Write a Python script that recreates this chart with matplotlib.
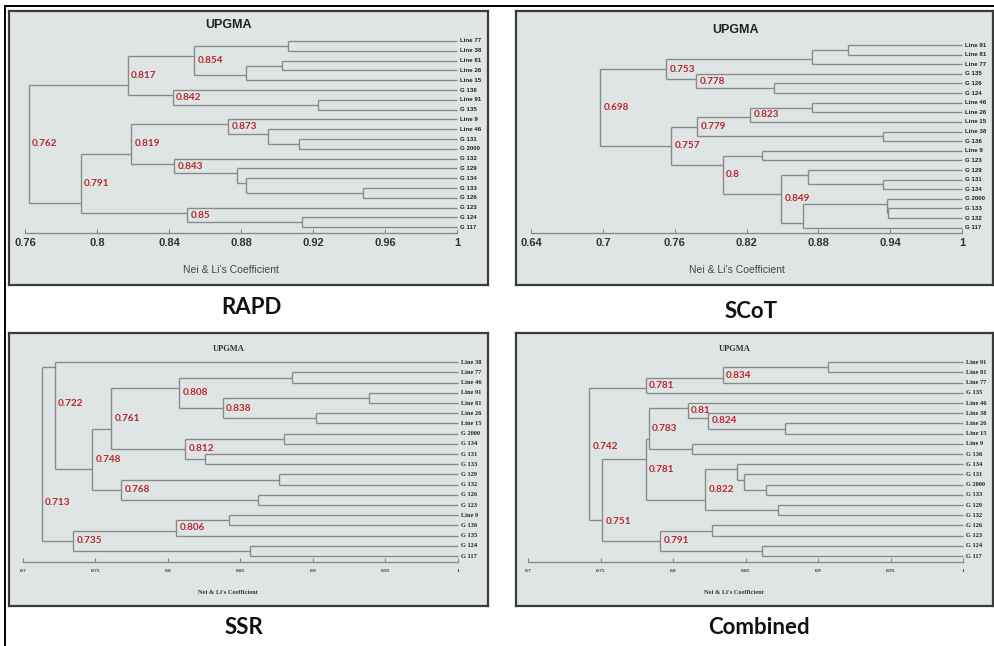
import matplotlib
matplotlib.use("Agg")
import matplotlib.pyplot as plt
from matplotlib.patches import Rectangle

# ---- data: UPGMA trees (height, upper child, lower child); leaves are names ----
rapd_tree = [0.762,
             [0.817,
              [0.854, [0.906, "Line 77", "Line 38"],
                      [0.883, [0.903, "Line 81", "Line 26"], "Line 15"]],
              [0.842, "G 136", [0.923, "Line 91", "G 135"]]],
             [0.791,
              [0.819,
               [0.873, "Line 9", [0.895, "Line 46", [0.912, "G 131", "G 2000"]]],
               [0.843, "G 132",
                [0.878, "G 129", [0.883, "G 134", [0.948, "G 133", "G 126"]]]]],
              [0.85, "G 123", [0.914, "G 124", "G 117"]]]]

scot_tree = [0.698,
             [0.753,
              [0.875, [0.905, "Line 91", "Line 81"], "Line 77"],
              [0.778, "G 135", [0.843, "G 126", "G 124"]]],
             [0.757,
              [0.779,
               [0.823, [0.875, "Line 46", "Line 26"], "Line 15"],
               [0.934, "Line 38", "G 136"]],
              [0.8,
               [0.833, "Line 9", "G 123"],
               [0.849,
                [0.871, "G 129", [0.934, "G 131", "G 134"]],
                [0.867, [0.937, "G 2000", [0.938, "G 133", "G 132"]], "G 117"]]]]]

ssr_tree = [0.713,
            [0.722, "Line 38",
             [0.748,
              [0.761,
               [0.808, [0.886, "Line 77", "Line 46"],
                       [0.838, [0.939, "Line 91", "Line 81"], [0.902, "Line 26", "Line 15"]]],
               [0.812, [0.880, "G 2000", "G 134"], [0.826, "G 131", "G 133"]]],
              [0.768, [0.877, "G 129", "G 132"], [0.8625, "G 126", "G 123"]]]],
            [0.735,
             [0.806, [0.842, "Line 9", "G 136"], "G 135"],
             [0.857, "G 124", "G 117"]]]

comb_tree = [0.742,
             [0.781, [0.834, [0.907, "Line 91", "Line 81"], "Line 77"], "G 135"],
             [0.751,
              [0.781,
               [0.783,
                [0.81, "Line 46", [0.824, "Line 38", [0.877, "Line 26", "Line 15"]]],
                [0.813, "Line 9", "G 136"]],
               [0.822,
                [0.844, "G 134", [0.849, "G 131", [0.864, "G 2000", "G 133"]]],
                [0.872, "G 129", "G 132"]]],
              [0.791, [0.827, "G 126", "G 123"], [0.861, "G 124", "G 117"]]]]

# node values printed on the trees
rapd_labels = [0.854, 0.817, 0.842, 0.873, 0.819, 0.843, 0.791, 0.85, 0.762]
scot_labels = [0.753, 0.778, 0.698, 0.823, 0.779, 0.757, 0.8, 0.849]
ssr_labels = [0.722, 0.808, 0.838, 0.761, 0.812, 0.748, 0.768, 0.713, 0.806, 0.735]
comb_labels = [0.834, 0.781, 0.742, 0.81, 0.824, 0.783, 0.822, 0.751, 0.791]

rapd_ticks = [0.76, 0.80, 0.84, 0.88, 0.92, 0.96, 1.0]
rapd_ticklabels = ["0.76", "0.8", "0.84", "0.88", "0.92", "0.96", "1"]
scot_ticks = [0.64, 0.70, 0.76, 0.82, 0.88, 0.94, 1.0]
scot_ticklabels = ["0.64", "0.7", "0.76", "0.82", "0.88", "0.94", "1"]
ssr_ticks = [0.70, 0.75, 0.80, 0.85, 0.90, 0.95, 1.0]
ssr_ticklabels = ["0.7", "0.75", "0.8", "0.85", "0.9", "0.95", "1"]

# ---- layout (pixels on a 994x646 canvas) ----
W, H = 994, 646
RED = "#b8262e"
LINE = "#8a8a8a"
BG = "#dfe5e5"


def fig_rect(x0, y0, x1, y1):
    return [x0 / W, 1 - y1 / H, (x1 - x0) / W, (y1 - y0) / H]


def walk(node, leaves, segs, marks):
    """Returns (first leaf idx, last leaf idx, attach y, node x)."""
    if isinstance(node, str):
        i = len(leaves)
        leaves.append(node)
        return i, i, i, 1.0
    h, left, right = node
    lf, ll, ly, lx = walk(left, leaves, segs, marks)
    rf, rl, ry, rx = walk(right, leaves, segs, marks)
    segs.append(([h, h], [ly, ry]))
    segs.append(([h, lx], [ly, ly]))
    segs.append(([h, rx], [ry, ry]))
    marks.append((h, (ly + ry) / 2))
    # parent branch attaches at the split between the two children
    return lf, rl, (ll + rf) / 2, h


def draw_tree(fig, box, area, tree, labels, ticks, ticklabels, serif,
              title_xy, xlabel_xy, label_y=None):
    # panel background box
    bx = fig.add_axes(fig_rect(*box), zorder=0)
    bx.set_facecolor(BG)
    bx.set_xticks([])
    bx.set_yticks([])
    for s in bx.spines.values():
        s.set_color("#3a3a3a")
        s.set_linewidth(1.6)

    x0, x1, ytop, ylast, yaxis = area
    leaves, segs, marks = [], [], []
    walk(tree, leaves, segs, marks)
    n = len(leaves)
    gap = (yaxis - ylast) / ((ylast - ytop) / (n - 1))

    ax = fig.add_axes(fig_rect(x0, ytop, x1, yaxis), zorder=1)
    ax.patch.set_alpha(0)
    for xs, ys in segs:
        ax.plot(xs, ys, color=LINE, lw=1.0, solid_capstyle="butt", clip_on=False)
    ax.set_xlim(ticks[0], 1.0)
    ax.set_ylim(n - 1 + gap, 0)
    for s in ["top", "right", "left"]:
        ax.spines[s].set_visible(False)
    ax.spines["bottom"].set_color("#8a8a8a")
    ax.spines["bottom"].set_linewidth(1.0)
    ax.set_yticks([])
    ax.set_xticks(ticks)

    if serif:
        fam = "Liberation Serif"
        ax.set_xticklabels(ticklabels, family=fam, fontsize=3.8,
                           fontweight="bold", color="#333333")
        ax.tick_params(axis="x", direction="in", length=3, width=0.8,
                       color="#8a8a8a", pad=4.5)
        leaf_kw = dict(family=fam, fontsize=4.6, fontweight="bold", color="#222222")
        fig.text(title_xy[0] / W, 1 - title_xy[1] / H, "UPGMA", family=fam,
                 fontsize=6, fontweight="bold", color="#333333",
                 ha="center", va="center")
        fig.text(xlabel_xy[0] / W, 1 - xlabel_xy[1] / H, "Nei & Li's Coefficient",
                 family=fam, fontsize=4.6, fontweight="bold", color="#333333",
                 ha="center", va="center")
    else:
        fam = "Liberation Sans"
        ax.set_xticklabels(ticklabels, family=fam, fontsize=8,
                           fontweight="bold", color="#333333")
        ax.tick_params(axis="x", direction="in", length=3, width=0.8,
                       color="#8a8a8a", pad=3.5)
        leaf_kw = dict(family=fam, fontsize=4.4, fontweight="bold", color="#222222")
        fig.text(title_xy[0] / W, 1 - title_xy[1] / H, "UPGMA", family=fam,
                 fontsize=9, fontweight="bold", color="#222222",
                 ha="center", va="center")
        fig.text(xlabel_xy[0] / W, 1 - xlabel_xy[1] / H, "Nei & Li's Coefficient",
                 family=fam, fontsize=7.5, color="#444444",
                 ha="center", va="center")

    for i, name in enumerate(leaves):
        ax.annotate(name, (1.0, i), xytext=(2.2, 0), textcoords="offset points",
                    ha="left", va="center", annotation_clip=False, **leaf_kw)

    label_y = label_y or {}
    for h, ym in marks:
        if h in labels:
            ax.annotate(f"{h:g}", (h, label_y.get(h, ym)), xytext=(2.4, 0),
                        textcoords="offset points", ha="left", va="center",
                        family="Lato", fontweight="bold", fontsize=7.2,
                        color=RED, annotation_clip=False)


fig = plt.figure(figsize=(W / 100, H / 100), dpi=100)
fig.patch.set_facecolor("white")

# outer frame
fig.patches.append(Rectangle((5 / W, -0.02), (W + 10) / W, 1 - 6 / H + 0.02,
                             transform=fig.transFigure, fill=False,
                             edgecolor="black", lw=1.4, zorder=5))

draw_tree(fig, (9, 11, 488, 285), (25, 457, 41, 227.3, 232.7),
          rapd_tree, rapd_labels, rapd_ticks, rapd_ticklabels, False,
          (228.7, 25.3), (230.7, 270))
draw_tree(fig, (516, 11, 993, 285), (531, 962, 45, 227.7, 233.3),
          scot_tree, scot_labels, scot_ticks, scot_ticklabels, False,
          (735.7, 30), (737, 270))
draw_tree(fig, (9, 333, 488, 606), (22.7, 457.7, 362.3, 556, 562.3),
          ssr_tree, ssr_labels, ssr_ticks, ssr_ticklabels, True,
          (228.3, 349), (228.3, 593), label_y={0.722: 4.0, 0.713: 13.8})
draw_tree(fig, (516, 333, 993, 606), (528.3, 963.3, 362.3, 556, 562.3),
          comb_tree, comb_labels, ssr_ticks, ssr_ticklabels, True,
          (734.7, 349.3), (734.3, 593), label_y={0.742: 8.3, 0.751: 15.6})

for x, y, name in [(251.5, 308, "RAPD"), (751.5, 312, "SCoT"),
                   (244, 628, "SSR"), (758.5, 628, "Combined")]:
    fig.text(x / W, 1 - y / H, name, family="Lato", fontweight="bold",
             fontsize=16, color="#111111", ha="center", va="center")

fig.savefig("out.png", dpi=100, facecolor="white")
